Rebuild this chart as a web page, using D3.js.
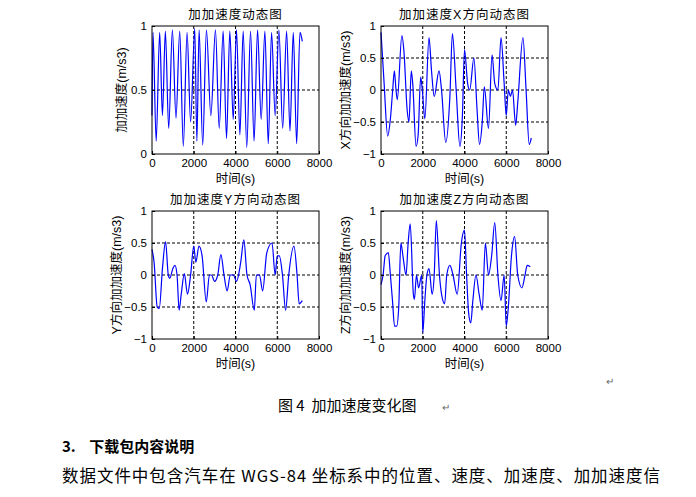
<!DOCTYPE html><html><head><meta charset="utf-8"><script src="https://cdn.jsdelivr.net/npm/d3@7"></script>
<style>body{margin:0;background:#fff} text{white-space:pre}</style></head><body><svg id="c" width="696" height="497"></svg>
<script>
const xTicks=[0,2000,4000,6000,8000];
const jerkT=[0,48,200,368,500,640,800,976,1150,1328,1500,1680,1850,2048,2150,2256,2430,2608,2820,3040,3220,3408,3570,3728,3890,4048,4210,4368,4540,4720,4890,5056,5230,5408,5570,5728,5900,6080,6260,6448,6610,6768,6930,7088,7200];
const jerkV=[0.3,0.95,0.1,0.95,0.3,0.96,0.2,0.97,0.28,0.96,0.06,0.95,0.25,0.98,0.1,0.97,0.07,0.97,0.3,0.97,0.2,0.96,0.12,0.96,0.27,0.97,0.15,0.96,0.05,0.96,0.1,0.97,0.27,0.96,0.08,0.95,0.3,0.97,0.2,0.96,0.18,0.95,0.08,0.95,0.88];
const xT=[0,150,320,450,560,640,720,780,1000,1100,1250,1340,1450,1520,1680,1780,1900,1980,2100,2300,2420,2550,2780,2900,3100,3300,3420,3600,3780,3900,4000,4150,4250,4450,4600,4720,4850,4950,5150,5320,5450,5600,5750,5900,6000,6100,6200,6300,6450,6550,6800,6950,7100,7200];
const xV=[0.9,0.1,-0.72,-0.45,0,0.3,0,-0.15,0.85,0.6,-0.3,-0.5,0.3,0.1,-0.88,-0.7,0.2,0,-0.45,0.82,0.3,-0.1,0.3,0,-0.82,-0.1,0.88,0,-0.88,-0.4,0.63,0.1,0,0.5,-0.3,-0.85,-0.5,0.05,-0.6,0.55,0.1,0,0.82,0.1,-0.4,0,-0.1,0,-0.55,-0.2,0.82,0,-0.85,-0.75];
const yT=[0,100,250,350,500,650,780,850,1000,1100,1200,1300,1400,1550,1700,1850,2000,2100,2250,2400,2600,2750,2850,3000,3150,3300,3450,3600,3750,3900,4050,4250,4400,4550,4700,4900,5000,5150,5300,5500,5750,5900,6000,6100,6250,6400,6550,6800,6950,7050,7200];
const yV=[0.4,0.2,-0.5,-0.52,0.1,0.52,0,-0.05,0.1,0.15,0,-0.55,-0.3,0.02,-0.3,0,0.45,0.2,0.45,0.3,-0.42,0,0,-0.1,0,0.32,0,-0.25,0,0,-0.1,0.2,0.55,0,-0.15,-0.55,0,0,-0.25,0.35,0.5,0,0.3,0.3,0,-0.55,0,0.45,0,-0.45,-0.4];
const zT=[0,100,200,350,450,550,650,750,850,950,1050,1200,1300,1400,1550,1600,1700,1800,1950,2000,2100,2200,2300,2450,2550,2650,2800,2900,3050,3150,3300,3450,3650,3850,4000,4100,4200,4300,4400,4550,4700,4850,5000,5150,5300,5450,5600,5750,5900,6000,6100,6250,6400,6550,6750,6900,7000,7150];
const zV=[-0.15,0,0.3,0.35,0,-0.4,-0.8,-0.8,-0.5,0.5,0.3,0,0.5,0.8,-0.3,-0.38,0,-0.2,0,-0.9,-0.4,0,0.1,-0.3,0,0.85,0,-0.3,-0.45,0,0.15,0,-0.3,0.5,0.7,0,-0.6,-0.75,-0.4,0,-0.3,-0.55,0.5,0,0.3,0.82,0,-0.4,0,-0.8,-0.5,0.3,0.6,0,-0.2,0,0.15,0.13];
const panels=[
 {x:152,y:26,t:jerkT,v:jerkV,dom:[0,1],ticks:[0,0.5,1],title:"加加速度动态图",yl:"加加速度(m/s3)"},
 {x:381,y:26,t:xT,v:xV,dom:[-1,1],ticks:[-1,-0.5,0,0.5,1],title:"加加速度X方向动态图",yl:"X方向加加速度(m/s3)"},
 {x:152,y:211,t:yT,v:yV,dom:[-1,1],ticks:[-1,-0.5,0,0.5,1],title:"加加速度Y方向动态图",yl:"Y方向加加速度(m/s3)"},
 {x:381,y:211,t:zT,v:zV,dom:[-1,1],ticks:[-1,-0.5,0,0.5,1],title:"加加速度Z方向动态图",yl:"Z方向加加速度(m/s3)"}];
const W=167,H=128,svg=d3.select("#c");
const F="'Liberation Sans',Arial,'Noto Sans CJK SC',sans-serif";
panels.forEach(p=>{
 const g=svg.append("g").attr("transform",`translate(${p.x},${p.y})`);
 const x=d3.scaleLinear().domain([0,8000]).range([0,W]);
 const y=d3.scaleLinear().domain(p.dom).range([H,0]);
 xTicks.slice(1,-1).forEach(t=>g.append("line").attr("x1",x(t)).attr("x2",x(t)).attr("y1",0).attr("y2",H).attr("stroke","#000").attr("stroke-dasharray","3,2").attr("stroke-width",1));
 p.ticks.slice(1,-1).forEach(t=>g.append("line").attr("y1",y(t)).attr("y2",y(t)).attr("x1",0).attr("x2",W).attr("stroke","#000").attr("stroke-dasharray","3,2").attr("stroke-width",1));
 g.append("path").datum(p.t.map((t,i)=>[t,p.v[i]])).attr("fill","none").attr("stroke","#0000ff").attr("stroke-width",1.2)
  .attr("d",d3.line().x(d=>x(d[0])).y(d=>y(d[1])).curve(d3.curveMonotoneX));
 g.append("rect").attr("width",W).attr("height",H).attr("fill","none").attr("stroke","#000");
 const ax=g.append("g").attr("transform",`translate(0,${H})`).call(d3.axisBottom(x).tickValues(xTicks).tickFormat(d3.format("d")).tickSize(-3).tickSizeOuter(0).tickPadding(5));
 const ay=g.append("g").call(d3.axisLeft(y).tickValues(p.ticks).tickFormat(d3.format("")).tickSize(-3).tickSizeOuter(0).tickPadding(5));
 [ax,ay].forEach(a=>{a.select(".domain").remove();a.selectAll("text").attr("font-family",F).attr("font-size",11.5).attr("fill","#000");});
 g.append("text").attr("x",W/2).attr("y",-7).attr("text-anchor","middle").attr("font-family",F).attr("font-size",12.5).attr("letter-spacing",1).text(p.title);
 g.append("text").attr("x",W/2).attr("y",H+29).attr("text-anchor","middle").attr("font-family",F).attr("font-size",12.5).text("时间(s)");
 g.append("text").attr("transform",`translate(${p.dom[0]<0?-31:-26},${H/2}) rotate(-90)`).attr("text-anchor","middle").attr("font-family",F).attr("font-size",12.5).text(p.yl);
});
const C="'Noto Sans CJK SC',sans-serif";
svg.append("text").attr("x",606).attr("y",385).attr("font-size",10).attr("fill","#666").text("↵");
svg.append("text").attr("x",278).attr("y",411).attr("font-family",C).attr("font-size",15).text("图 4  加加速度变化图");
svg.append("text").attr("x",442).attr("y",411).attr("font-size",10).attr("fill","#666").text("↵");
svg.append("text").attr("x",62).attr("y",452).attr("font-family",C).attr("font-size",15).attr("font-weight","bold").text("3.    下载包内容说明");
svg.append("text").attr("x",62).attr("y",482).attr("font-family",C).attr("font-size",16.5).attr("textLength",598).attr("lengthAdjust","spacing").text("数据文件中包含汽车在 WGS-84 坐标系中的位置、速度、加速度、加加速度信");
</script></body></html>
